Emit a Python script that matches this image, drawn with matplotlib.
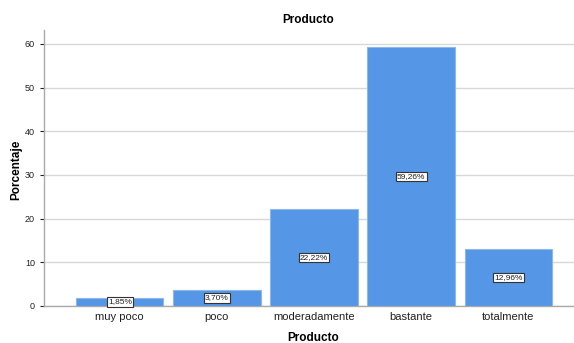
import matplotlib
matplotlib.use("Agg")
import matplotlib.pyplot as plt

categories = ["muy poco", "poco", "moderadamente", "bastante", "totalmente"]
percentages = [1.85, 3.70, 22.22, 59.26, 12.96]
y_ticks = [0, 10, 20, 30, 40, 50, 60]

plt.rcParams["font.family"] = ["Liberation Sans", "DejaVu Sans"]

fig = plt.figure(figsize=(5.74, 3.43), dpi=100)
ax = fig.add_axes([0.0767, 0.1079, 0.9408, 0.8047])

x = list(range(len(categories)))
bars = ax.bar(x, percentages, width=0.9, color="#5596E6", edgecolor="#8DB8EE",
              linewidth=0.8, zorder=3)

for xi, v in zip(x, percentages):
    ax.text(xi, v / 2, f"{v:.2f}%".replace(".", ","), ha="center", va="center",
            fontsize=6, color="#222222", zorder=4,
            bbox=dict(boxstyle="square,pad=0.15", facecolor="white",
                      edgecolor="#333333", linewidth=0.8))

ax.set_xlim(-0.78, 4.78)
ax.set_ylim(0, 63.2)
ax.set_yticks(y_ticks)
ax.set_xticks(x)
ax.set_xticklabels(categories, fontsize=8, color="#222222")
ax.tick_params(axis="y", labelsize=6.5, colors="#222222", length=3, width=0.8)
ax.tick_params(axis="x", length=0, pad=4)
ax.yaxis.grid(True, color="#D8D8D8", linewidth=1.0, zorder=0)
ax.set_axisbelow(True)

for side in ("top", "right"):
    ax.spines[side].set_visible(False)
for side in ("left", "bottom"):
    ax.spines[side].set_color("#AAAAAA")
    ax.spines[side].set_linewidth(1.0)

fig.text(308 / 574, 1 - 20 / 343, "Producto", ha="center", va="center",
         fontsize=8.5, fontweight="bold")
fig.text(313 / 574, 1 - 338 / 343, "Producto", ha="center", va="center",
         fontsize=8.5, fontweight="bold")
fig.text(16 / 574, 1 - 170 / 343, "Porcentaje", ha="center", va="center",
         fontsize=8.5, fontweight="bold", rotation=90)

fig.savefig("out.png", dpi=100)
